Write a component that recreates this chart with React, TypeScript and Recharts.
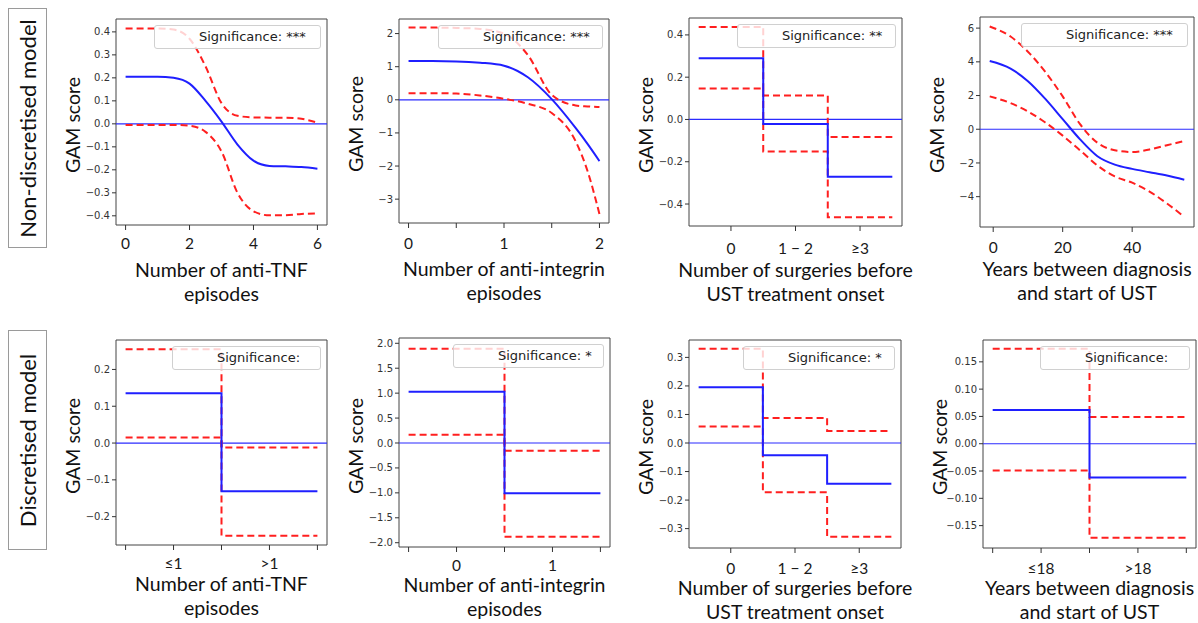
import React from 'react';
import { LineChart, Line, XAxis, YAxis, ReferenceLine, ReferenceArea } from 'recharts';

// ---- Non-discretised model ----
const tnfX = [0, 0.5, 1, 1.5, 2, 2.5, 3, 3.5, 4, 4.5, 5, 5.5, 6];
const tnfMid = [0.205, 0.205, 0.205, 0.2, 0.175, 0.1, 0.01, -0.09, -0.16, -0.183, -0.185, -0.188, -0.195];
const tnfUp = [0.415, 0.415, 0.415, 0.41, 0.37, 0.25, 0.09, 0.035, 0.028, 0.027, 0.027, 0.022, 0.005];
const tnfLo = [-0.005, -0.005, -0.005, -0.005, -0.008, -0.035, -0.12, -0.3, -0.38, -0.398, -0.398, -0.392, -0.39];

const intX = [0, 0.25, 0.5, 0.75, 1, 1.25, 1.5, 1.75, 1.875, 2];
const intMid = [1.17, 1.17, 1.16, 1.12, 1.03, 0.68, 0.02, -0.85, -1.33, -1.85];
const intUp = [2.18, 2.18, 2.17, 2.14, 2.0, 1.35, 0.15, -0.17, -0.2, -0.22];
const intLo = [0.2, 0.2, 0.19, 0.13, 0.03, -0.12, -0.4, -1.25, -2.15, -3.45];

const surgCats = ['0', '1 \u2212 2', '\u22653'];
const surgMid = [0.29, -0.022, -0.271];
const surgUp = [0.438, 0.113, -0.083];
const surgLo = [0.146, -0.152, -0.463];

const yrsX = [-1, 5, 10, 15, 20, 25, 30, 35, 40, 45, 50, 55];
const yrsMid = [4.05, 3.6, 2.85, 1.8, 0.6, -0.6, -1.6, -2.1, -2.35, -2.55, -2.75, -3.0];
const yrsUp = [6.1, 5.5, 4.6, 3.4, 1.95, 0.3, -0.8, -1.25, -1.35, -1.2, -0.95, -0.7];
const yrsLo = [1.95, 1.55, 1.05, 0.4, -0.38, -1.25, -2.15, -2.8, -3.17, -3.7, -4.4, -5.2];

// ---- Discretised model ----
const dTnfCats = ['\u22641', '>1'];
const dTnfMid = [0.135, -0.131];
const dTnfUp = [0.255, -0.012];
const dTnfLo = [0.015, -0.252];

const dIntCats = ['0', '1'];
const dIntMid = [1.03, -1.01];
const dIntUp = [1.89, -0.155];
const dIntLo = [0.167, -1.88];

const dSurgCats = ['0', '1 \u2212 2', '\u22653'];
const dSurgMid = [0.195, -0.043, -0.143];
const dSurgUp = [0.33, 0.088, 0.042];
const dSurgLo = [0.058, -0.173, -0.329];

const dYrsCats = ['\u226418', '>18'];
const dYrsMid = [0.062, -0.062];
const dYrsUp = [0.174, 0.049];
const dYrsLo = [-0.049, -0.172];

type Row = { x: number; mid: number; up: number; lo: number };

const toRows = (xs: number[], mid: number[], up: number[], lo: number[]): Row[] =>
  xs.map((x, i) => ({ x, mid: mid[i], up: up[i], lo: lo[i] }));

// category i covers [i - 0.5, i + 0.5]
const toStepRows = (mid: number[], up: number[], lo: number[]): Row[] => {
  const rows = mid.map((_, i) => ({ x: i - 0.5, mid: mid[i], up: up[i], lo: lo[i] }));
  const n = mid.length - 1;
  rows.push({ x: n + 0.5, mid: mid[n], up: up[n], lo: lo[n] });
  return rows;
};

const FONT = 'Lato, "Liberation Sans", sans-serif';
const MPL = '"DejaVu Sans", sans-serif';
const YW = 44;
const TP = 4;
const RP = 4;
const XH = 36;

const catFmt = (cats: string[]) => (v: number) => (Number.isInteger(v) ? cats[v] ?? '' : '');
const numFmt = (dec: number) => (v: number) => v.toFixed(dec).replace('-', '\u2212');

type Box = { l: number; t: number; r: number; b: number };

interface PanelProps {
  box: Box;
  xDomain: [number, number];
  yDomain: [number, number];
  xTicks: number[];
  xFmt: (v: number) => string;
  yTicks: number[];
  yDec: number;
  rows: Row[];
  step?: boolean;
  sig: string;
  sigW: number;
  xLabel: string[];
  labelTop: number;
  tickGap: number;
}

function Panel({ box, xDomain, yDomain, xTicks, xFmt, yTicks, yDec, rows, step, sig, sigW, xLabel, labelTop, tickGap }: PanelProps) {
  const w = box.r - box.l;
  const h = box.b - box.t;
  const curve = step ? 'stepAfter' : 'monotone';
  return (
    <>
      <div style={{ position: 'absolute', left: box.l - YW, top: box.t - TP }}>
        <LineChart width={w + YW + RP} height={h + TP + XH} data={rows} margin={{ top: TP, right: RP, left: 0, bottom: 0 }}>
          <XAxis
            dataKey="x"
            type="number"
            domain={xDomain}
            allowDataOverflow
            ticks={xTicks}
            interval={0}
            tickFormatter={xFmt}
            height={XH}
            axisLine={false}
            tickLine={{ stroke: '#333' }}
            tickSize={5}
            tickMargin={tickGap}
            tick={{ fill: '#1a1a1a', fontSize: 15.5, fontFamily: FONT }}
          />
          <YAxis
            type="number"
            domain={yDomain}
            allowDataOverflow
            ticks={yTicks}
            interval={0}
            tickFormatter={numFmt(yDec)}
            width={YW}
            axisLine={false}
            tickLine={{ stroke: '#333' }}
            tickSize={4}
            tickMargin={2}
            tick={{ fill: '#333', fontSize: 10, fontFamily: MPL }}
          />
          <ReferenceLine y={0} stroke="#2b2bff" strokeWidth={1.2} />
          <Line dataKey="up" type={curve} stroke="#ff1f1f" strokeWidth={2} strokeDasharray="7 4" dot={false} isAnimationActive={false} />
          <Line dataKey="lo" type={curve} stroke="#ff1f1f" strokeWidth={2} strokeDasharray="7 4" dot={false} isAnimationActive={false} />
          <Line dataKey="mid" type={curve} stroke="#1f1fff" strokeWidth={2} dot={false} isAnimationActive={false} />
          <ReferenceArea x1={xDomain[0]} x2={xDomain[1]} y1={yDomain[0]} y2={yDomain[1]} fill="none" fillOpacity={0} stroke="#444" strokeWidth={1} />
        </LineChart>
      </div>
      <div
        style={{
          position: 'absolute',
          left: box.r - 6 - sigW,
          top: box.t + 6,
          width: sigW,
          height: 24,
          boxSizing: 'border-box',
          border: '1px solid #d0d0d0',
          borderRadius: 3,
          background: 'rgba(255,255,255,0.8)',
          paddingLeft: 44,
          fontFamily: MPL,
          fontSize: 13,
          lineHeight: '22px',
          color: '#222',
          whiteSpace: 'nowrap',
        }}
      >
        {sig}
      </div>
      <div
        style={{
          position: 'absolute',
          left: box.l - 44,
          top: (box.t + box.b) / 2 + 3,
          transform: 'translate(-50%, -50%) rotate(-90deg)',
          fontFamily: FONT,
          fontSize: 19.5,
          color: '#111',
          whiteSpace: 'nowrap',
        }}
      >
        GAM score
      </div>
      <div
        style={{
          position: 'absolute',
          left: (box.l + box.r) / 2 - 150,
          width: 300,
          top: labelTop,
          textAlign: 'center',
          fontFamily: FONT,
          fontSize: 19.5,
          lineHeight: '19.5px',
          color: '#111',
        }}
      >
        {xLabel.map((s, i) => (
          <div key={s} style={{ marginTop: i === 0 ? 0 : 4.5 }}>
            {s}
          </div>
        ))}
      </div>
    </>
  );
}

function RowLabel({ top, height, text }: { top: number; height: number; text: string }) {
  return (
    <div
      style={{
        position: 'absolute',
        left: 8,
        top,
        width: 39,
        height,
        boxSizing: 'border-box',
        border: '1px solid #9a9a9a',
        display: 'flex',
        alignItems: 'center',
        justifyContent: 'center',
      }}
    >
      <div style={{ transform: 'rotate(-90deg)', whiteSpace: 'nowrap', fontFamily: FONT, fontSize: 22, color: '#111' }}>{text}</div>
    </div>
  );
}

export default function App() {
  const top = 260;
  return (
    <div style={{ position: 'absolute', left: 0, top: 0, width: 1198, height: 623, background: '#fff', overflow: 'hidden' }}>
      <RowLabel top={8} height={240} text="Non-discretised model" />
      <RowLabel top={330} height={220} text="Discretised model" />

      <Panel
        box={{ l: 116, t: 19, r: 327, b: 225 }}
        xDomain={[-0.3, 6.3]}
        yDomain={[-0.44, 0.456]}
        xTicks={[0, 2, 4, 6]}
        xFmt={(v) => String(v)}
        yTicks={[-0.4, -0.3, -0.2, -0.1, 0, 0.1, 0.2, 0.3, 0.4]}
        yDec={1}
        rows={toRows(tnfX, tnfMid, tnfUp, tnfLo)}
        sig="Significance: ***"
        sigW={167}
        xLabel={['Number of anti-TNF', 'episodes']}
        labelTop={top}
        tickGap={8}
      />
      <Panel
        box={{ l: 399, t: 19, r: 609, b: 223 }}
        xDomain={[-0.1, 2.1]}
        yDomain={[-3.72, 2.44]}
        xTicks={[0, 0.5, 1, 1.5, 2]}
        xFmt={(v) => (Number.isInteger(v) ? String(v) : '')}
        yTicks={[-3, -2, -1, 0, 1, 2]}
        yDec={0}
        rows={toRows(intX, intMid, intUp, intLo)}
        sig="Significance: ***"
        sigW={165}
        xLabel={['Number of anti-integrin', 'episodes']}
        labelTop={top - 1}
        tickGap={10}
      />
      <Panel
        box={{ l: 689, t: 18, r: 902, b: 226 }}
        xDomain={[-0.65, 2.65]}
        yDomain={[-0.504, 0.48]}
        xTicks={[0, 1, 2]}
        xFmt={catFmt(surgCats)}
        yTicks={[-0.4, -0.2, 0, 0.2, 0.4]}
        yDec={1}
        rows={toStepRows(surgMid, surgUp, surgLo)}
        step
        sig="Significance: **"
        sigW={159}
        xLabel={['Number of surgeries before', 'UST treatment onset']}
        labelTop={top}
        tickGap={12}
      />
      <Panel
        box={{ l: 980, t: 17, r: 1194, b: 227 }}
        xDomain={[-3.8, 57.8]}
        yDomain={[-5.8, 6.66]}
        xTicks={[0, 20, 40]}
        xFmt={(v) => String(v)}
        yTicks={[-4, -2, 0, 2, 4, 6]}
        yDec={0}
        rows={toRows(yrsX, yrsMid, yrsUp, yrsLo)}
        sig="Significance: ***"
        sigW={167}
        xLabel={['Years between diagnosis', 'and start of UST']}
        labelTop={top - 1}
        tickGap={10}
      />

      <Panel
        box={{ l: 116, t: 340, r: 327, b: 545 }}
        xDomain={[-0.6, 1.6]}
        yDomain={[-0.277, 0.28]}
        xTicks={[-0.5, 0, 0.5, 1, 1.5]}
        xFmt={catFmt(dTnfCats)}
        yTicks={[-0.2, -0.1, 0, 0.1, 0.2]}
        yDec={1}
        rows={toStepRows(dTnfMid, dTnfUp, dTnfLo)}
        step
        sig="Significance:"
        sigW={149}
        xLabel={['Number of anti-TNF', 'episodes']}
        labelTop={574}
        tickGap={8}
      />
      <Panel
        box={{ l: 399, t: 338, r: 610, b: 547 }}
        xDomain={[-0.6, 1.6]}
        yDomain={[-2.086, 2.106]}
        xTicks={[-0.5, 0, 0.5, 1, 1.5]}
        xFmt={catFmt(dIntCats)}
        yTicks={[-2, -1.5, -1, -0.5, 0, 0.5, 1, 1.5, 2]}
        yDec={1}
        rows={toStepRows(dIntMid, dIntUp, dIntLo)}
        step
        sig="Significance: *"
        sigW={151}
        xLabel={['Number of anti-integrin', 'episodes']}
        labelTop={575}
        tickGap={8}
      />
      <Panel
        box={{ l: 689, t: 340, r: 901, b: 548 }}
        xDomain={[-0.65, 2.65]}
        yDomain={[-0.368, 0.361]}
        xTicks={[0, 1, 2]}
        xFmt={catFmt(dSurgCats)}
        yTicks={[-0.3, -0.2, -0.1, 0, 0.1, 0.2, 0.3]}
        yDec={1}
        rows={toStepRows(dSurgMid, dSurgUp, dSurgLo)}
        step
        sig="Significance: *"
        sigW={152}
        xLabel={['Number of surgeries before', 'UST treatment onset']}
        labelTop={578}
        tickGap={10}
      />
      <Panel
        box={{ l: 983, t: 340, r: 1196, b: 548 }}
        xDomain={[-0.6, 1.6]}
        yDomain={[-0.191, 0.19]}
        xTicks={[-0.5, 0, 0.5, 1, 1.5]}
        xFmt={catFmt(dYrsCats)}
        yTicks={[-0.15, -0.1, -0.05, 0, 0.05, 0.1, 0.15]}
        yDec={2}
        rows={toStepRows(dYrsMid, dYrsUp, dYrsLo)}
        step
        sig="Significance:"
        sigW={150}
        xLabel={['Years between diagnosis', 'and start of UST']}
        labelTop={578}
        tickGap={10}
      />
    </div>
  );
}
